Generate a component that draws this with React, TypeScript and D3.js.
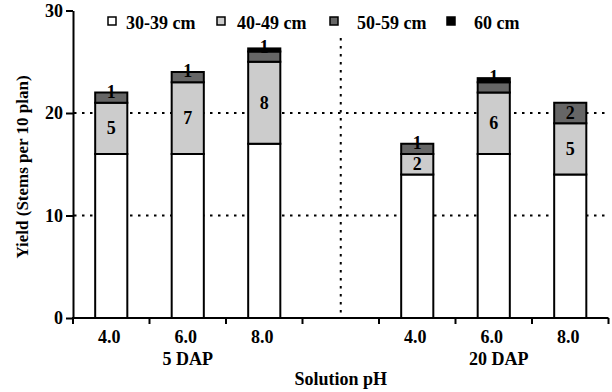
import React, { Component } from 'react';
import * as d3 from 'd3';

// categories along the x axis ('gap' is the empty slot between the two groups)
const categories = ['5-4.0', '5-6.0', '5-8.0', 'gap', '20-4.0', '20-6.0', '20-8.0'];
const barCategories = ['5-4.0', '5-6.0', '5-8.0', '20-4.0', '20-6.0', '20-8.0'];
const phLabels = ['4.0', '6.0', '8.0', '4.0', '6.0', '8.0'];
const groupLabels = ['5 DAP', '20 DAP'];

// stem length classes
const series = ['30-39 cm', '40-49 cm', '50-59 cm', '60 cm'];
const colors = ['#ffffff', '#cccccc', '#666666', '#000000'];

const class30 = [16, 16, 17, 14, 16, 14];
const class40 = [5, 7, 8, 2, 6, 5];
const class50 = [1, 1, 1, 1, 1, 2];
const class60 = [0, 0, 0.3, 0, 0.4, 0];

const yTicks = [0, 10, 20, 30];
const gridTicks = [10, 20];

const FONT = "Liberation Serif, Tinos, Times New Roman, Times, DejaVu Serif, serif";

class App extends Component {
    componentDidMount() {
        document.body.style.margin = '0';
        this.drawChart();
    }

    drawChart() {
        const svg = d3.select('#chart');
        svg.selectAll('*').remove();

        const x = d3.scaleBand()
            .domain(categories)
            .range([73, 608.5])
            .paddingInner(0.58)
            .paddingOuter(0.29);

        const y = d3.scaleLinear()
            .domain([0, 30])
            .range([318, 10.5]);

        const bw = x.bandwidth();

        // table for d3.stack built from the arrays
        const table = barCategories.map((c, i) => ({
            cat: c,
            '30-39 cm': class30[i],
            '40-49 cm': class40[i],
            '50-59 cm': class50[i],
            '60 cm': class60[i],
        }));
        const stacked = d3.stack().keys(series)(table);

        const txt = (px, py, s, size = 18, anchor = 'middle') =>
            svg.append('text')
                .attr('x', px)
                .attr('y', py)
                .attr('font-family', FONT)
                .attr('font-weight', 'bold')
                .attr('font-size', size)
                .attr('text-anchor', anchor)
                .attr('fill', '#000')
                .text(s);

        //虛線 grid
        gridTicks.forEach(t => {
            svg.append('line')
                .attr('x1', 74)
                .attr('x2', x.range()[1])
                .attr('y1', y(t))
                .attr('y2', y(t))
                .style('stroke', '#000')
                .style('stroke-width', 2)
                .style('stroke-dasharray', '2.5,5.5');
        });

        // divider between groups
        svg.append('line')
            .attr('x1', x('gap') + bw / 2)
            .attr('x2', x('gap') + bw / 2)
            .attr('y1', 38)
            .attr('y2', y(0))
            .style('stroke', '#000')
            .style('stroke-width', 2)
            .style('stroke-dasharray', '2.5,5.5');

        // bars
        stacked.forEach((layer, si) => {
            svg.append('g')
                .selectAll('rect')
                .data(layer.filter(d => d[1] - d[0] > 0))
                .enter()
                .append('rect')
                .attr('x', d => x(d.data.cat))
                .attr('width', bw)
                .attr('y', d => y(d[1]))
                .attr('height', d => y(d[0]) - y(d[1]))
                .style('fill', colors[si])
                .style('stroke', '#000')
                .style('stroke-width', 2);
        });

        // value labels
        const layer40 = stacked[1];
        const layer50 = stacked[2];
        const layer60 = stacked[3];
        barCategories.forEach((c, i) => {
            const cx = x(c) + bw / 2;
            const mid40 = (y(layer40[i][0]) + y(layer40[i][1])) / 2;
            txt(cx, mid40 + 6, class40[i]);

            let cy;
            if (class50[i] <= 1) {
                cy = y(layer60[i][1]) - 1;
            } else {
                cy = (y(layer50[i][0]) + y(layer50[i][1])) / 2;
            }
            txt(cx, cy + 6, class50[i]);
        });

        // y axis
        const yAxis = d3.axisLeft(y)
            .tickValues(yTicks)
            .tickSize(7)
            .tickSizeOuter(0)
            .tickPadding(3);
        const gy = svg.append('g')
            .attr('transform', 'translate(73,0)')
            .call(yAxis)
            .attr('font-family', FONT)
            .attr('font-size', 18)
            .attr('font-weight', 'bold');
        gy.select('.domain').style('stroke-width', 2);
        gy.selectAll('.tick line').style('stroke-width', 2);
        gy.selectAll('.tick text').attr('dy', '0.33em');

        // x axis
        svg.append('line')
            .attr('x1', x.range()[0] - 1)
            .attr('x2', x.range()[1])
            .attr('y1', y(0))
            .attr('y2', y(0))
            .style('stroke', '#000')
            .style('stroke-width', 2);

        for (let i = 0; i <= categories.length; i++) {
            const tx = x.range()[0] + i * x.step();
            svg.append('line')
                .attr('x1', tx)
                .attr('x2', tx)
                .attr('y1', y(0))
                .attr('y2', y(0) + 6)
                .style('stroke', '#000')
                .style('stroke-width', 2);
        }

        barCategories.forEach((c, i) => {
            txt(x(c) + bw / 2 - 2, 343, phLabels[i]);
        });

        txt(x(barCategories[1]) + bw / 2, 365, groupLabels[0]);
        txt(x(barCategories[4]) + bw / 2 + 5, 365, groupLabels[1]);
        txt(x('gap') + bw / 2, 385, 'Solution pH');

        txt(0, 0, 'Yield (Stems per 10 plan)', 17)
            .attr('transform', 'translate(28,167) rotate(-90)');

        // legend
        const legendSq = [108, 217, 330, 447];
        const legendTx = [126, 237, 357, 474];
        series.forEach((s, i) => {
            svg.append('rect')
                .attr('x', legendSq[i])
                .attr('y', 17)
                .attr('width', 8)
                .attr('height', 8)
                .style('fill', colors[i])
                .style('stroke', '#000')
                .style('stroke-width', 1.5);
            txt(legendTx[i], 29, s, 18, 'start');
        });
    }

    render() {
        return (
            <div>
                <svg id="chart" width={612} height={392} style={{ display: 'block', background: '#fff' }}></svg>
            </div>
        );
    }
}

export default App;
